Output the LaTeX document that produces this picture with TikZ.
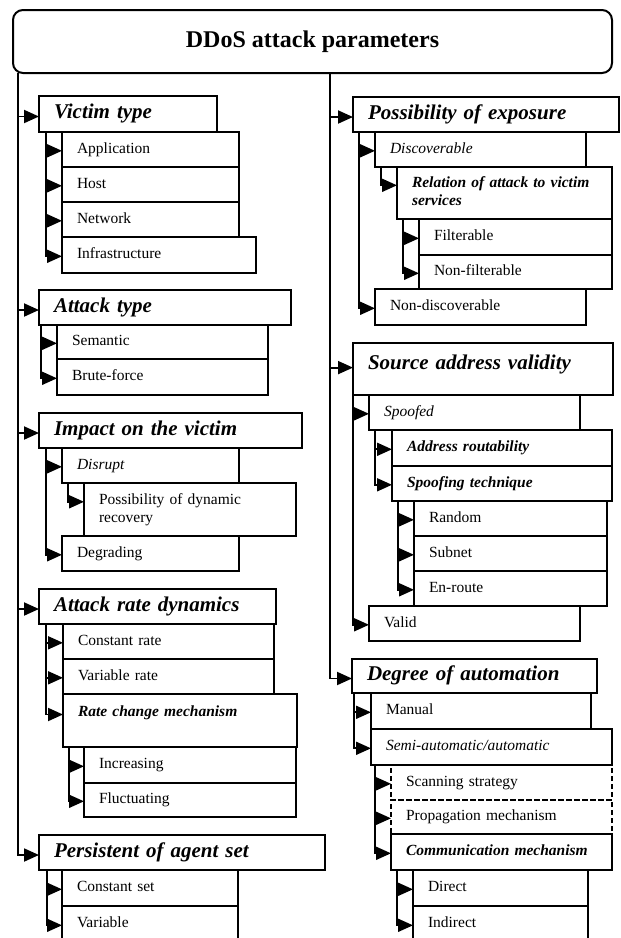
\documentclass[tikz,border=0pt]{standalone}
\usepackage{fontspec}
\setmainfont{Liberation Serif}
\usetikzlibrary{arrows.meta}
\newcommand\fnorm{\fontsize{15.5}{18}\selectfont}
\newcommand\fhead{\fontsize{21}{24}\selectfont}
\newcommand\ftitle{\fontsize{24}{28}\selectfont}
\tikzset{
  titlebox/.style={draw,line width=2pt,rounded corners=10pt,anchor=north west,
    outer sep=0pt,font=\ftitle\bfseries},
  cell/.style={draw,line width=2pt,anchor=north west,align=left,outer sep=0pt,
    inner xsep=15pt,inner ysep=1pt,font=\fnorm,
    execute at begin node=\strut,execute at end node=\strut},
  bw/.style={text width=#1-30,minimum width=#1},
  bh/.style={minimum height=#1},
  cat/.style={cell,font=\fhead\bfseries\itshape},
  subcat/.style={cell,font=\fnorm\bfseries\itshape},
  opt/.style={cell,font=\fnorm\itshape},
  dleaf/.style={cell,dash pattern=on 5pt off 3pt},
  arr/.style={-{Triangle[length=15pt,width=13pt]},line width=1.9pt},
}
\begin{document}
\begin{tikzpicture}[x=1pt,y=-1pt]
  \useasboundingbox (0,0) rectangle (621,938);
  \clip (0,0) rectangle (621,938);
  \node[titlebox,minimum width=599,minimum height=63] (root) at (13,10) {DDoS attack parameters};

  % left column
  \node[cat,bw=178,bh=36] (vt) at (39,96) {Victim type};
  \node[cell,bw=177,bh=35] (app) at ([xshift=23]vt.south west) {Application};
  \node[cell,bw=177,bh=35] (host) at (app.south west) {Host};
  \node[cell,bw=177,bh=35] (net) at (host.south west) {Network};
  \node[cell,bw=194,bh=36] (infra) at (net.south west) {Infrastructure};

  \node[cat,bw=252,bh=35] (atk) at (39,290) {Attack type};
  \node[cell,bw=211,bh=34] (sem) at ([xshift=18]atk.south west) {Semantic};
  \node[cell,bw=211,bh=36] (brute) at (sem.south west) {Brute-force};

  \node[cat,bw=263,bh=35] (imp) at (39,413) {Impact on the victim};
  \node[opt,bw=177,bh=35] (disr) at ([xshift=23]imp.south west) {Disrupt};
  \node[cell,bw=212,bh=53] (recov) at ([xshift=22]disr.south west) {Possibility of dynamic\\recovery};
  \node[cell,bw=177,bh=35] (degr) at (disr.south west |- recov.south) {Degrading};

  \node[cat,bw=237,bh=35] (rate) at (39,589) {Attack rate dynamics};
  \node[cell,bw=211,bh=35] (crate) at ([xshift=24]rate.south west) {Constant rate};
  \node[cell,bw=211,bh=35] (vrate) at (crate.south west) {Variable rate};
  \node[subcat,bw=234,bh=53,text depth=20pt] (rcm) at (vrate.south west) {Rate change mechanism};
  \node[cell,bw=212,bh=36] (incr) at ([xshift=21]rcm.south west) {Increasing};
  \node[cell,bw=212,bh=34] (fluct) at (incr.south west) {Fluctuating};

  \node[cat,bw=286,bh=35] (pers) at (39,835) {Persistent of agent set};
  \node[cell,bw=176,bh=36] (cset) at ([xshift=23]pers.south west) {Constant set};
  \node[cell,bw=176,bh=36] (var) at (cset.south west) {Variable};

  % right column
  \node[cat,bw=266,bh=35] (poe) at (353,97) {Possibility of exposure};
  \node[opt,bw=211,bh=35] (disc) at ([xshift=22]poe.south west) {Discoverable};
  \node[subcat,bw=215,bh=52] (rel) at ([xshift=22]disc.south west) {Relation of attack to victim\\services};
  \node[cell,bw=193,bh=36] (filt) at ([xshift=22]rel.south west) {Filterable};
  \node[cell,bw=193,bh=34] (nfilt) at (filt.south west) {Non-filterable};
  \node[cell,bw=211,bh=36] (ndisc) at (disc.south west |- nfilt.south) {Non-discoverable};

  \node[cat,bw=260,bh=52,text depth=15pt] (sav) at (353,343) {Source address validity};
  \node[opt,bw=211,bh=35] (spoof) at ([xshift=16]sav.south west) {Spoofed};
  \node[subcat,bw=220,bh=36] (addr) at ([xshift=23]spoof.south west) {Address routability};
  \node[subcat,bw=220,bh=35] (spt) at (addr.south west) {Spoofing technique};
  \node[cell,bw=193,bh=35] (rand) at ([xshift=22]spt.south west) {Random};
  \node[cell,bw=193,bh=35] (subn) at (rand.south west) {Subnet};
  \node[cell,bw=193,bh=35] (enr) at (subn.south west) {En-route};
  \node[cell,bw=211,bh=35] (valid) at (spoof.south west |- enr.south) {Valid};

  \node[cat,bw=245,bh=34] (doa) at (352,659) {Degree of automation};
  \node[cell,bw=220,bh=36] (man) at ([xshift=19]doa.south west) {Manual};
  \node[opt,bw=241,bh=36] (semi) at (man.south west) {Semi-automatic/automatic};
  \node[dleaf,bw=221,bh=35] (scan) at ([xshift=20]semi.south west) {Scanning strategy};
  \node[dleaf,bw=221,bh=34] (prop) at (scan.south west) {Propagation mechanism};
  \node[subcat,bw=221,bh=36] (comm) at (prop.south west) {Communication mechanism};
  \node[cell,bw=175,bh=36] (direct) at ([xshift=22]comm.south west) {Direct};
  \node[cell,bw=175,bh=36] (indir) at (direct.south west) {Indirect};

  % trunks from the root
  \path ([xshift=5]root.south west) coordinate (lt);
  \path (root.south) ++(17.5,0) coordinate (rt);
  \foreach \c in {vt,atk,imp,rate} \draw[arr] (lt |- \c.mid west) -- (\c.mid west);
  \draw[arr] (lt) |- (pers.mid west);
  \foreach \c in {poe,sav} \draw[arr] (rt |- \c.mid west) -- (\c.mid west);
  \draw[arr] (rt) |- (doa.mid west);

  % parent / trunk offset / last child
  \foreach \p/\dx/\l in {vt/7/infra,atk/2/brute,imp/7/degr,disr/6/recov,rate/7/rcm,
      rcm/6/fluct,pers/8/var,poe/6/ndisc,disc/6/rel,rel/6/nfilt,sav/0/valid,
      spoof/6/spt,spt/6/enr,doa/2/semi,semi/4/comm,comm/6/indir} {
    \path ([xshift=\dx]\p.south west) coordinate (t-\p);
    \draw[arr] (t-\p) |- (\l.mid west);
  }
  % parent / other children
  \foreach \p/\c in {vt/app,vt/host,vt/net,atk/sem,imp/disr,rate/crate,rate/vrate,
      rcm/incr,pers/cset,poe/disc,rel/filt,sav/spoof,spoof/addr,spt/rand,spt/subn,
      doa/man,semi/scan,semi/prop,comm/direct}
    \draw[arr] (t-\p |- \c.mid west) -- (\c.mid west);
\end{tikzpicture}
\end{document}
